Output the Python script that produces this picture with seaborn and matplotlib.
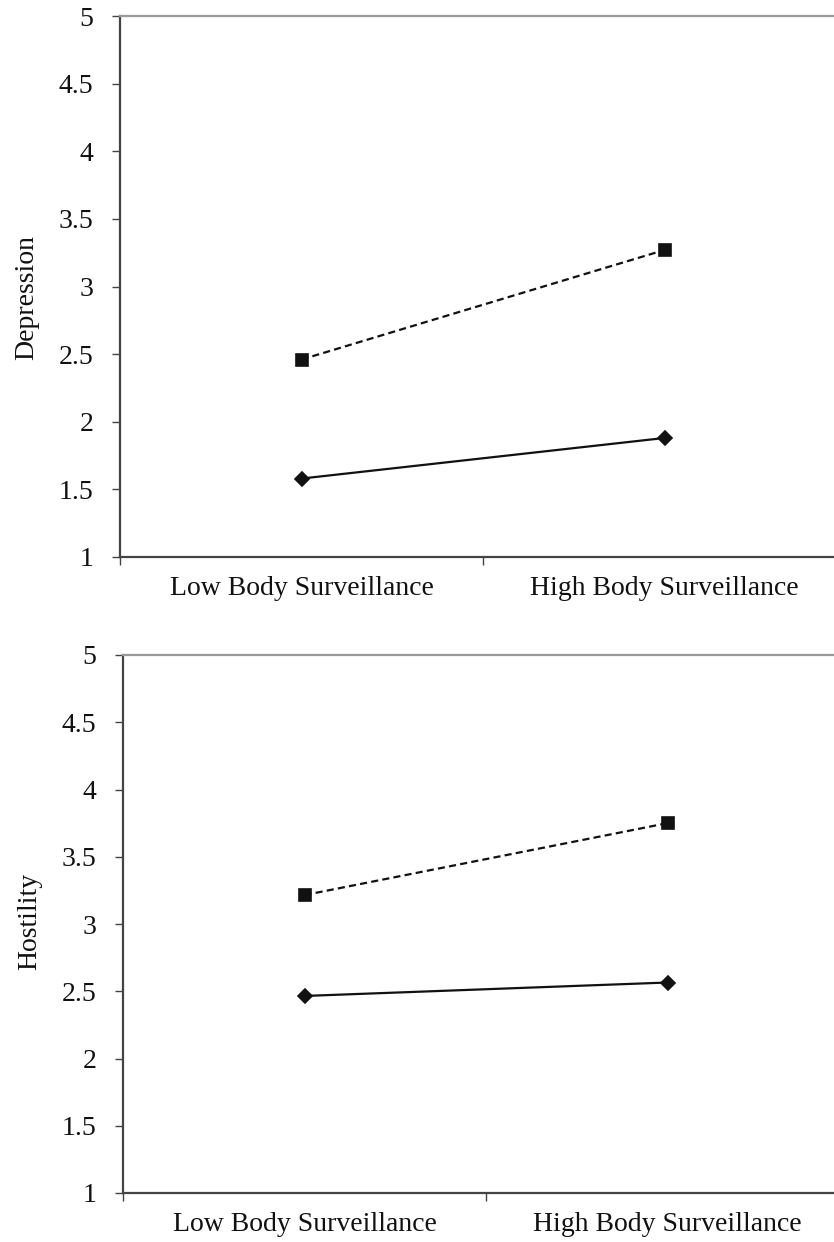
import matplotlib
matplotlib.use("Agg")
import matplotlib.pyplot as plt
import seaborn as sns
import pandas as pd

categories = ["Low Body Surveillance", "High Body Surveillance"]
groups = ["Solid (diamond)", "Dashed (square)"]
depression_solid = [1.58, 1.88]
depression_dashed = [2.46, 3.27]
hostility_solid = [2.465, 2.565]
hostility_dashed = [3.215, 3.75]
y_ticks = [1, 1.5, 2, 2.5, 3, 3.5, 4, 4.5, 5]
y_tick_labels = ["1", "1.5", "2", "2.5", "3", "3.5", "4", "4.5", "5"]

sns.set_theme(style="white")
plt.rcParams["font.family"] = ["Liberation Serif", "DejaVu Serif"]

def make_df(solid, dashed):
    rows = []
    for c, v in zip(categories, solid):
        rows.append({"cat": c, "grp": groups[0], "val": v})
    for c, v in zip(categories, dashed):
        rows.append({"cat": c, "grp": groups[1], "val": v})
    return pd.DataFrame(rows)

fig = plt.figure(figsize=(8.34, 12.42), dpi=100)
ax1 = fig.add_axes([120/834, 1-557/1242, 726/834, 541/1242])
ax2 = fig.add_axes([123/834, 1-1193/1242, 726/834, 538/1242])

panels = [(ax1, depression_solid, depression_dashed, "Depression", 0.48),
          (ax2, hostility_solid, hostility_dashed, "Hostility", 0.505)]

for ax, solid, dashed, ylabel, ly in panels:
    df = make_df(solid, dashed)
    sns.pointplot(data=df, x="cat", y="val", hue="grp", order=categories,
                  hue_order=groups, palette=["#111111", "#111111"],
                  markers=["D", "s"], linestyles=["-", "--"],
                  markersize=8, linewidth=1.6, ax=ax, legend=False)
    for ln in ax.get_lines():
        if ln.get_marker() == "D":
            ln.set_markersize(7)
        elif ln.get_marker() == "s":
            ln.set_markersize(9)
            ln.set_dashes([3.2, 1.9])
    ax.set_xlim(-0.5, 1.5)
    ax.set_ylim(1, 5)
    ax.set_yticks(y_ticks)
    ax.set_yticklabels(y_tick_labels)
    ax.set_xticks([0, 1])
    ax.set_xticklabels(categories)
    ax.set_xticks([-0.5, 0.5, 1.5], minor=True)
    ax.tick_params(axis="x", which="major", length=0, pad=14, labelsize=20, colors="#111111")
    ax.tick_params(axis="x", which="minor", length=6, width=1, color="#444444", direction="out", bottom=True)
    ax.tick_params(axis="y", which="major", length=6, width=1, color="#444444", direction="out",
                   labelsize=20, labelcolor="#111111", pad=13, left=True)
    ax.set_xlabel("")
    ax.set_ylabel(ylabel, fontsize=20, color="#111111")
    ax.yaxis.set_label_coords(-0.111, ly)
    for s in ["left", "bottom"]:
        ax.spines[s].set_color("#444444")
        ax.spines[s].set_linewidth(1.6)
    ax.spines["top"].set_color("#999999")
    ax.spines["top"].set_linewidth(1.6)
    ax.spines["right"].set_visible(False)
    ax.grid(False)

fig.savefig("out.png", dpi=100)
